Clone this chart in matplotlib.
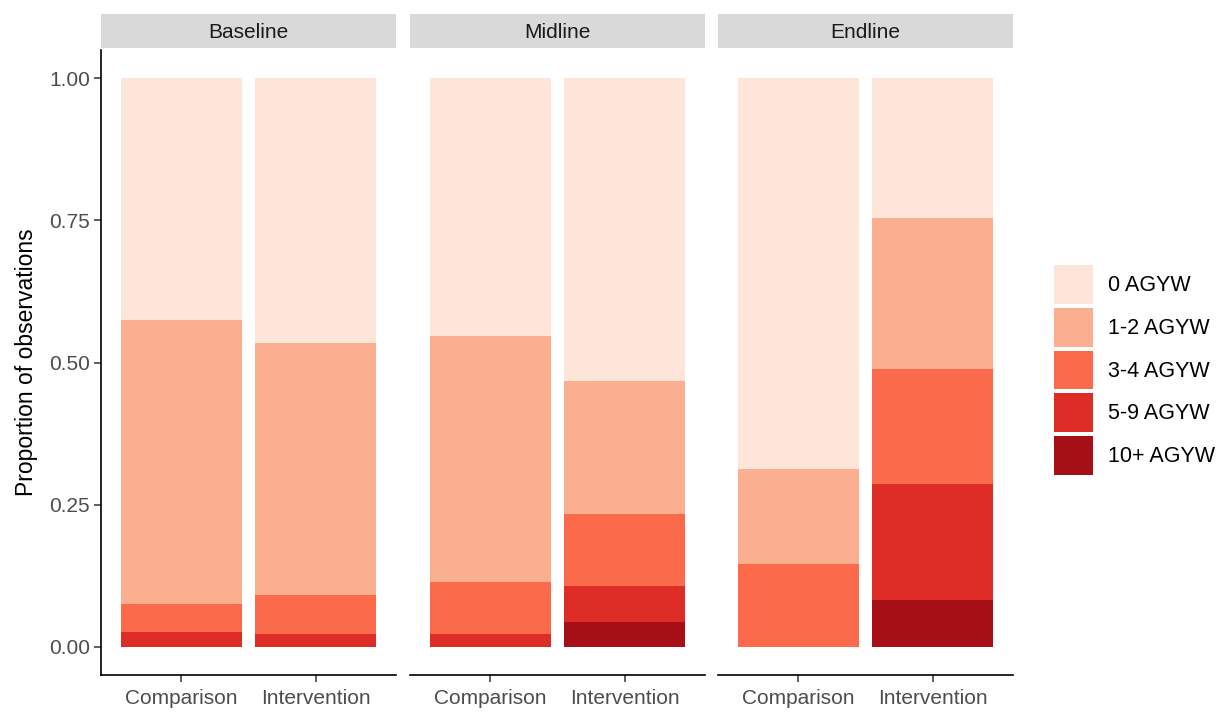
import matplotlib.pyplot as plt
from matplotlib.patches import Patch, Rectangle

plt.rcParams["font.family"] = ["Liberation Sans", "DejaVu Sans"]

waves = ["Baseline", "Midline", "Endline"]
arms = ["Comparison", "Intervention"]
categories = ["0 AGYW", "1-2 AGYW", "3-4 AGYW", "5-9 AGYW", "10+ AGYW"]
colors = ["#FEE5D9", "#FCAE91", "#FB6A4A", "#DE2D26", "#A50F15"]

# share per wave, [comparison, intervention]
agyw_0 = {"Baseline": [0.425, 0.466], "Midline": [0.454, 0.532], "Endline": [0.688, 0.246]}
agyw_1_2 = {"Baseline": [0.500, 0.444], "Midline": [0.432, 0.234], "Endline": [0.166, 0.265]}
agyw_3_4 = {"Baseline": [0.049, 0.067], "Midline": [0.091, 0.128], "Endline": [0.146, 0.203]}
agyw_5_9 = {"Baseline": [0.026, 0.023], "Midline": [0.023, 0.063], "Endline": [0.0, 0.204]}
agyw_10 = {"Baseline": [0.0, 0.0], "Midline": [0.0, 0.043], "Endline": [0.0, 0.082]}

series = [agyw_0, agyw_1_2, agyw_3_4, agyw_5_9, agyw_10]

W, H = 1230, 713
fig = plt.figure(figsize=(W / 100, H / 100), dpi=100)

panel_left = [101, 410, 718]
panel_w = 295
panel_top, panel_bot = 50, 675

tick_col = "#4D4D4D"
for i, wave in enumerate(waves):
    ax = fig.add_axes([panel_left[i] / W, (H - panel_bot) / H,
                       panel_w / W, (panel_bot - panel_top) / H])
    x = list(range(len(arms)))
    bottom = [0.0] * len(arms)
    # stack from the highest category up to 0 AGYW on top
    for vals, col in zip(reversed(series), reversed(colors)):
        v = vals[wave]
        ax.bar(x, v, width=0.9, bottom=bottom, color=col, linewidth=0)
        bottom = [b + h for b, h in zip(bottom, v)]
    ax.set_xlim(-0.6, 1.6)
    ax.set_ylim(-0.05, 1.05)
    ax.set_xticks(x)
    ax.set_xticklabels(arms, fontsize=15, color=tick_col)
    ax.set_yticks([0, 0.25, 0.5, 0.75, 1.0])
    for s in ["top", "right"]:
        ax.spines[s].set_visible(False)
    ax.spines["bottom"].set_linewidth(1.2)
    ax.spines["left"].set_linewidth(1.2)
    ax.tick_params(axis="x", length=5, width=1.1, color="#333333", pad=5)
    ax.tick_params(axis="y", length=5, width=1.1, color="#333333", pad=3)
    if i == 0:
        ax.set_yticklabels(["0.00", "0.25", "0.50", "0.75", "1.00"], fontsize=15, color=tick_col)
        ax.set_ylabel("Proportion of observations", fontsize=16.5, labelpad=8)
    else:
        ax.spines["left"].set_visible(False)
        ax.tick_params(axis="y", left=False, labelleft=False)
    # facet strip
    ph = panel_bot - panel_top
    ax.add_patch(Rectangle((0, 1 + 2 / ph), 1, 34 / ph, transform=ax.transAxes,
                           facecolor="#D9D9D9", edgecolor="none", clip_on=False))
    ax.text(0.5, 1 + 18 / ph, wave, transform=ax.transAxes, ha="center", va="center",
            fontsize=15, color="#1A1A1A")

handles = [Patch(facecolor=c, edgecolor="none") for c in colors]
fig.legend(handles, categories, loc="center left", bbox_to_anchor=(1054 / W, 1 - 370 / H),
           frameon=False, fontsize=15.5, handlelength=1.8, handleheight=2.38,
           labelspacing=0.19, handletextpad=0.7, borderaxespad=0, borderpad=0)

fig.savefig("out.png", dpi=100)
